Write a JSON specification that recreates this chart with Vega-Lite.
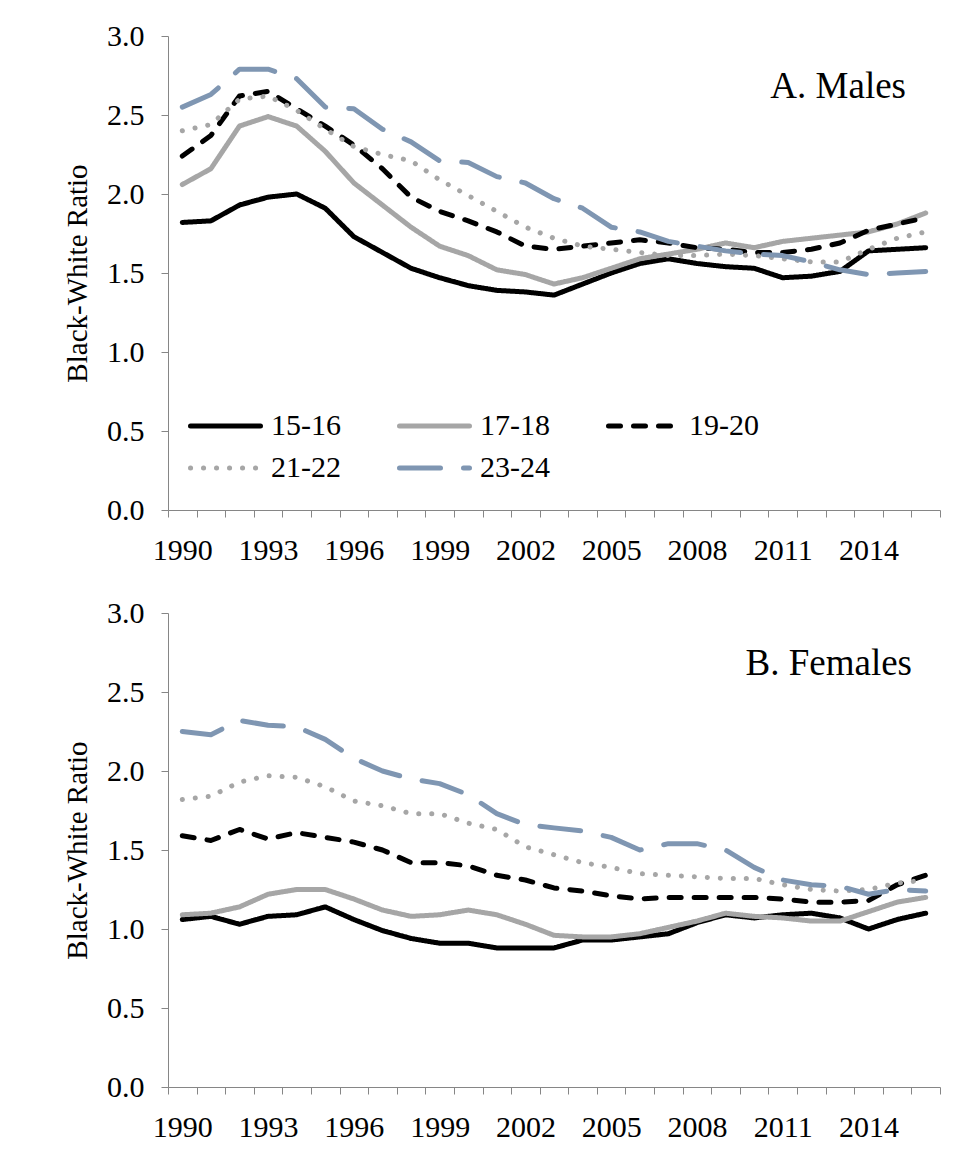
{
  "$schema": "https://vega.github.io/schema/vega-lite/v6.json",
  "padding": {"left": 63, "top": 21, "right": 20, "bottom": 10},
  "background": "white",
  "config": {
    "font": "'Liberation Serif', 'Times New Roman', serif",
    "view": {"stroke": null},
    "axis": {"labelFont": "'Liberation Serif', 'Times New Roman', serif", "titleFont": "'Liberation Serif', 'Times New Roman', serif", "labelColor": "black", "titleColor": "black", "domainColor": "#868686", "tickColor": "#868686", "grid": false, "labelFontSize": 30, "titleFontSize": 29, "titleFontWeight": "normal", "tickSize": 7},
    "concat": {"spacing": 33}
  },
  "datasets": {
    "males": [
      {"age":"15-16","year":1990,"ratio":1.82},{"age":"15-16","year":1991,"ratio":1.83},{"age":"15-16","year":1992,"ratio":1.93},{"age":"15-16","year":1993,"ratio":1.98},{"age":"15-16","year":1994,"ratio":2.00},{"age":"15-16","year":1995,"ratio":1.91},{"age":"15-16","year":1996,"ratio":1.73},{"age":"15-16","year":1997,"ratio":1.63},{"age":"15-16","year":1998,"ratio":1.53},{"age":"15-16","year":1999,"ratio":1.47},{"age":"15-16","year":2000,"ratio":1.42},{"age":"15-16","year":2001,"ratio":1.39},{"age":"15-16","year":2002,"ratio":1.38},{"age":"15-16","year":2003,"ratio":1.36},{"age":"15-16","year":2004,"ratio":1.43},{"age":"15-16","year":2005,"ratio":1.50},{"age":"15-16","year":2006,"ratio":1.56},{"age":"15-16","year":2007,"ratio":1.59},{"age":"15-16","year":2008,"ratio":1.56},{"age":"15-16","year":2009,"ratio":1.54},{"age":"15-16","year":2010,"ratio":1.53},{"age":"15-16","year":2011,"ratio":1.47},{"age":"15-16","year":2012,"ratio":1.48},{"age":"15-16","year":2013,"ratio":1.51},{"age":"15-16","year":2014,"ratio":1.64},{"age":"15-16","year":2015,"ratio":1.65},{"age":"15-16","year":2016,"ratio":1.66},
      {"age":"17-18","year":1990,"ratio":2.06},{"age":"17-18","year":1991,"ratio":2.16},{"age":"17-18","year":1992,"ratio":2.43},{"age":"17-18","year":1993,"ratio":2.49},{"age":"17-18","year":1994,"ratio":2.43},{"age":"17-18","year":1995,"ratio":2.27},{"age":"17-18","year":1996,"ratio":2.07},{"age":"17-18","year":1997,"ratio":1.93},{"age":"17-18","year":1998,"ratio":1.79},{"age":"17-18","year":1999,"ratio":1.67},{"age":"17-18","year":2000,"ratio":1.61},{"age":"17-18","year":2001,"ratio":1.52},{"age":"17-18","year":2002,"ratio":1.49},{"age":"17-18","year":2003,"ratio":1.43},{"age":"17-18","year":2004,"ratio":1.47},{"age":"17-18","year":2005,"ratio":1.53},{"age":"17-18","year":2006,"ratio":1.59},{"age":"17-18","year":2007,"ratio":1.62},{"age":"17-18","year":2008,"ratio":1.65},{"age":"17-18","year":2009,"ratio":1.69},{"age":"17-18","year":2010,"ratio":1.66},{"age":"17-18","year":2011,"ratio":1.70},{"age":"17-18","year":2012,"ratio":1.72},{"age":"17-18","year":2013,"ratio":1.74},{"age":"17-18","year":2014,"ratio":1.76},{"age":"17-18","year":2015,"ratio":1.81},{"age":"17-18","year":2016,"ratio":1.88},
      {"age":"19-20","year":1990,"ratio":2.24},{"age":"19-20","year":1991,"ratio":2.37},{"age":"19-20","year":1992,"ratio":2.62},{"age":"19-20","year":1993,"ratio":2.65},{"age":"19-20","year":1994,"ratio":2.54},{"age":"19-20","year":1995,"ratio":2.43},{"age":"19-20","year":1996,"ratio":2.31},{"age":"19-20","year":1997,"ratio":2.16},{"age":"19-20","year":1998,"ratio":1.98},{"age":"19-20","year":1999,"ratio":1.89},{"age":"19-20","year":2000,"ratio":1.83},{"age":"19-20","year":2001,"ratio":1.76},{"age":"19-20","year":2002,"ratio":1.67},{"age":"19-20","year":2003,"ratio":1.65},{"age":"19-20","year":2004,"ratio":1.67},{"age":"19-20","year":2005,"ratio":1.69},{"age":"19-20","year":2006,"ratio":1.71},{"age":"19-20","year":2007,"ratio":1.69},{"age":"19-20","year":2008,"ratio":1.66},{"age":"19-20","year":2009,"ratio":1.65},{"age":"19-20","year":2010,"ratio":1.63},{"age":"19-20","year":2011,"ratio":1.63},{"age":"19-20","year":2012,"ratio":1.65},{"age":"19-20","year":2013,"ratio":1.69},{"age":"19-20","year":2014,"ratio":1.77},{"age":"19-20","year":2015,"ratio":1.81},{"age":"19-20","year":2016,"ratio":1.85},
      {"age":"21-22","year":1990,"ratio":2.40},{"age":"21-22","year":1991,"ratio":2.44},{"age":"21-22","year":1992,"ratio":2.60},{"age":"21-22","year":1993,"ratio":2.62},{"age":"21-22","year":1994,"ratio":2.53},{"age":"21-22","year":1995,"ratio":2.41},{"age":"21-22","year":1996,"ratio":2.30},{"age":"21-22","year":1997,"ratio":2.25},{"age":"21-22","year":1998,"ratio":2.21},{"age":"21-22","year":1999,"ratio":2.09},{"age":"21-22","year":2000,"ratio":1.99},{"age":"21-22","year":2001,"ratio":1.89},{"age":"21-22","year":2002,"ratio":1.79},{"age":"21-22","year":2003,"ratio":1.72},{"age":"21-22","year":2004,"ratio":1.67},{"age":"21-22","year":2005,"ratio":1.65},{"age":"21-22","year":2006,"ratio":1.63},{"age":"21-22","year":2007,"ratio":1.61},{"age":"21-22","year":2008,"ratio":1.61},{"age":"21-22","year":2009,"ratio":1.62},{"age":"21-22","year":2010,"ratio":1.61},{"age":"21-22","year":2011,"ratio":1.59},{"age":"21-22","year":2012,"ratio":1.57},{"age":"21-22","year":2013,"ratio":1.57},{"age":"21-22","year":2014,"ratio":1.65},{"age":"21-22","year":2015,"ratio":1.72},{"age":"21-22","year":2016,"ratio":1.76},
      {"age":"23-24","year":1990,"ratio":2.55},{"age":"23-24","year":1991,"ratio":2.63},{"age":"23-24","year":1992,"ratio":2.79},{"age":"23-24","year":1993,"ratio":2.79},{"age":"23-24","year":1994,"ratio":2.73},{"age":"23-24","year":1995,"ratio":2.55},{"age":"23-24","year":1996,"ratio":2.54},{"age":"23-24","year":1997,"ratio":2.41},{"age":"23-24","year":1998,"ratio":2.33},{"age":"23-24","year":1999,"ratio":2.21},{"age":"23-24","year":2000,"ratio":2.20},{"age":"23-24","year":2001,"ratio":2.11},{"age":"23-24","year":2002,"ratio":2.07},{"age":"23-24","year":2003,"ratio":1.97},{"age":"23-24","year":2004,"ratio":1.91},{"age":"23-24","year":2005,"ratio":1.79},{"age":"23-24","year":2006,"ratio":1.76},{"age":"23-24","year":2007,"ratio":1.70},{"age":"23-24","year":2008,"ratio":1.67},{"age":"23-24","year":2009,"ratio":1.64},{"age":"23-24","year":2010,"ratio":1.62},{"age":"23-24","year":2011,"ratio":1.61},{"age":"23-24","year":2012,"ratio":1.57},{"age":"23-24","year":2013,"ratio":1.52},{"age":"23-24","year":2014,"ratio":1.49},{"age":"23-24","year":2015,"ratio":1.50},{"age":"23-24","year":2016,"ratio":1.51}
    ],
    "females": [
      {"age":"15-16","year":1990,"ratio":1.06},{"age":"15-16","year":1991,"ratio":1.08},{"age":"15-16","year":1992,"ratio":1.03},{"age":"15-16","year":1993,"ratio":1.08},{"age":"15-16","year":1994,"ratio":1.09},{"age":"15-16","year":1995,"ratio":1.14},{"age":"15-16","year":1996,"ratio":1.06},{"age":"15-16","year":1997,"ratio":0.99},{"age":"15-16","year":1998,"ratio":0.94},{"age":"15-16","year":1999,"ratio":0.91},{"age":"15-16","year":2000,"ratio":0.91},{"age":"15-16","year":2001,"ratio":0.88},{"age":"15-16","year":2002,"ratio":0.88},{"age":"15-16","year":2003,"ratio":0.88},{"age":"15-16","year":2004,"ratio":0.93},{"age":"15-16","year":2005,"ratio":0.93},{"age":"15-16","year":2006,"ratio":0.95},{"age":"15-16","year":2007,"ratio":0.97},{"age":"15-16","year":2008,"ratio":1.04},{"age":"15-16","year":2009,"ratio":1.09},{"age":"15-16","year":2010,"ratio":1.07},{"age":"15-16","year":2011,"ratio":1.09},{"age":"15-16","year":2012,"ratio":1.10},{"age":"15-16","year":2013,"ratio":1.07},{"age":"15-16","year":2014,"ratio":1.00},{"age":"15-16","year":2015,"ratio":1.06},{"age":"15-16","year":2016,"ratio":1.10},
      {"age":"17-18","year":1990,"ratio":1.09},{"age":"17-18","year":1991,"ratio":1.10},{"age":"17-18","year":1992,"ratio":1.14},{"age":"17-18","year":1993,"ratio":1.22},{"age":"17-18","year":1994,"ratio":1.25},{"age":"17-18","year":1995,"ratio":1.25},{"age":"17-18","year":1996,"ratio":1.19},{"age":"17-18","year":1997,"ratio":1.12},{"age":"17-18","year":1998,"ratio":1.08},{"age":"17-18","year":1999,"ratio":1.09},{"age":"17-18","year":2000,"ratio":1.12},{"age":"17-18","year":2001,"ratio":1.09},{"age":"17-18","year":2002,"ratio":1.03},{"age":"17-18","year":2003,"ratio":0.96},{"age":"17-18","year":2004,"ratio":0.95},{"age":"17-18","year":2005,"ratio":0.95},{"age":"17-18","year":2006,"ratio":0.97},{"age":"17-18","year":2007,"ratio":1.01},{"age":"17-18","year":2008,"ratio":1.05},{"age":"17-18","year":2009,"ratio":1.10},{"age":"17-18","year":2010,"ratio":1.08},{"age":"17-18","year":2011,"ratio":1.07},{"age":"17-18","year":2012,"ratio":1.05},{"age":"17-18","year":2013,"ratio":1.05},{"age":"17-18","year":2014,"ratio":1.11},{"age":"17-18","year":2015,"ratio":1.17},{"age":"17-18","year":2016,"ratio":1.20},
      {"age":"19-20","year":1990,"ratio":1.59},{"age":"19-20","year":1991,"ratio":1.56},{"age":"19-20","year":1992,"ratio":1.63},{"age":"19-20","year":1993,"ratio":1.57},{"age":"19-20","year":1994,"ratio":1.61},{"age":"19-20","year":1995,"ratio":1.58},{"age":"19-20","year":1996,"ratio":1.55},{"age":"19-20","year":1997,"ratio":1.50},{"age":"19-20","year":1998,"ratio":1.42},{"age":"19-20","year":1999,"ratio":1.42},{"age":"19-20","year":2000,"ratio":1.40},{"age":"19-20","year":2001,"ratio":1.34},{"age":"19-20","year":2002,"ratio":1.31},{"age":"19-20","year":2003,"ratio":1.26},{"age":"19-20","year":2004,"ratio":1.24},{"age":"19-20","year":2005,"ratio":1.21},{"age":"19-20","year":2006,"ratio":1.19},{"age":"19-20","year":2007,"ratio":1.20},{"age":"19-20","year":2008,"ratio":1.20},{"age":"19-20","year":2009,"ratio":1.20},{"age":"19-20","year":2010,"ratio":1.20},{"age":"19-20","year":2011,"ratio":1.19},{"age":"19-20","year":2012,"ratio":1.17},{"age":"19-20","year":2013,"ratio":1.17},{"age":"19-20","year":2014,"ratio":1.18},{"age":"19-20","year":2015,"ratio":1.28},{"age":"19-20","year":2016,"ratio":1.34},
      {"age":"21-22","year":1990,"ratio":1.82},{"age":"21-22","year":1991,"ratio":1.84},{"age":"21-22","year":1992,"ratio":1.93},{"age":"21-22","year":1993,"ratio":1.97},{"age":"21-22","year":1994,"ratio":1.96},{"age":"21-22","year":1995,"ratio":1.90},{"age":"21-22","year":1996,"ratio":1.81},{"age":"21-22","year":1997,"ratio":1.78},{"age":"21-22","year":1998,"ratio":1.73},{"age":"21-22","year":1999,"ratio":1.73},{"age":"21-22","year":2000,"ratio":1.67},{"age":"21-22","year":2001,"ratio":1.63},{"age":"21-22","year":2002,"ratio":1.52},{"age":"21-22","year":2003,"ratio":1.47},{"age":"21-22","year":2004,"ratio":1.42},{"age":"21-22","year":2005,"ratio":1.39},{"age":"21-22","year":2006,"ratio":1.35},{"age":"21-22","year":2007,"ratio":1.34},{"age":"21-22","year":2008,"ratio":1.33},{"age":"21-22","year":2009,"ratio":1.32},{"age":"21-22","year":2010,"ratio":1.32},{"age":"21-22","year":2011,"ratio":1.28},{"age":"21-22","year":2012,"ratio":1.25},{"age":"21-22","year":2013,"ratio":1.24},{"age":"21-22","year":2014,"ratio":1.25},{"age":"21-22","year":2015,"ratio":1.29},{"age":"21-22","year":2016,"ratio":1.31},
      {"age":"23-24","year":1990,"ratio":2.25},{"age":"23-24","year":1991,"ratio":2.23},{"age":"23-24","year":1992,"ratio":2.32},{"age":"23-24","year":1993,"ratio":2.29},{"age":"23-24","year":1994,"ratio":2.28},{"age":"23-24","year":1995,"ratio":2.20},{"age":"23-24","year":1996,"ratio":2.08},{"age":"23-24","year":1997,"ratio":2.00},{"age":"23-24","year":1998,"ratio":1.95},{"age":"23-24","year":1999,"ratio":1.92},{"age":"23-24","year":2000,"ratio":1.85},{"age":"23-24","year":2001,"ratio":1.73},{"age":"23-24","year":2002,"ratio":1.66},{"age":"23-24","year":2003,"ratio":1.64},{"age":"23-24","year":2004,"ratio":1.62},{"age":"23-24","year":2005,"ratio":1.58},{"age":"23-24","year":2006,"ratio":1.50},{"age":"23-24","year":2007,"ratio":1.54},{"age":"23-24","year":2008,"ratio":1.54},{"age":"23-24","year":2009,"ratio":1.50},{"age":"23-24","year":2010,"ratio":1.39},{"age":"23-24","year":2011,"ratio":1.31},{"age":"23-24","year":2012,"ratio":1.28},{"age":"23-24","year":2013,"ratio":1.27},{"age":"23-24","year":2014,"ratio":1.22},{"age":"23-24","year":2015,"ratio":1.25},{"age":"23-24","year":2016,"ratio":1.24}
    ]
  },
  "resolve": {"scale": {"color": "independent", "strokeDash": "independent"}},
  "vconcat": [
    {
      "width": 772, "height": 474,
      "title": {"text": "A. Males", "anchor": "end", "orient": "top", "frame": "group", "fontSize": 37, "font": "'Liberation Serif', 'Times New Roman', serif", "fontWeight": "normal", "color": "black", "baseline": "alphabetic", "offset": 0, "dx": -34, "dy": 114},
      "data": {"name": "males"},
      "mark": {"type": "line", "strokeWidth": 5, "strokeCap": "round", "strokeJoin": "round"},
      "encoding": {
        "x": {"field": "year", "type": "ordinal", "scale": {"type": "band", "paddingInner": 0, "paddingOuter": 0}, "bandPosition": 0.5,
              "axis": {"title": null, "tickBand": "extent", "labelAngle": 0, "labelPadding": 18, "labelOverlap": false, "labelExpr": "(datum.value - 1990) % 3 === 0 ? datum.label : ''"}},
        "y": {"field": "ratio", "type": "quantitative", "scale": {"domain": [0, 3], "nice": false},
              "axis": {"title": "Black-White Ratio", "values": [0, 0.5, 1, 1.5, 2, 2.5, 3], "format": ".1f", "labelPadding": 17, "titlePadding": 14}},
        "color": {"field": "age", "type": "nominal",
                  "scale": {"domain": ["15-16", "17-18", "19-20", "21-22", "23-24"], "range": ["#000000", "#a6a6a6", "#000000", "#a6a6a6", "#7f96b2"]},
                  "legend": {"title": null, "orient": "none", "legendX": 20, "legendY": 375, "columns": 3, "direction": "horizontal", "symbolType": "stroke", "symbolSize": 4900, "symbolStrokeWidth": 5, "clipHeight": 30, "labelFontSize": 30, "labelFont": "'Liberation Serif', 'Times New Roman', serif", "labelColor": "black", "labelOffset": 8, "columnPadding": 56, "rowPadding": 12, "padding": 0, "labelLimit": 200, "encode": {"symbols": {"update": {"strokeCap": {"value": "round"}}}}}},
        "strokeDash": {"field": "age", "type": "nominal",
                  "scale": {"domain": ["15-16", "17-18", "19-20", "21-22", "23-24"], "range": [[1, 0], [1, 0], [12, 13], [0.1, 12.9], [41, 23]]},
                  "legend": {"title": null, "orient": "none", "legendX": 20, "legendY": 375, "columns": 3, "direction": "horizontal", "symbolType": "stroke", "symbolSize": 4900, "symbolStrokeWidth": 5, "clipHeight": 30, "labelFontSize": 30, "labelFont": "'Liberation Serif', 'Times New Roman', serif", "labelColor": "black", "labelOffset": 8, "columnPadding": 56, "rowPadding": 12, "padding": 0, "labelLimit": 200, "encode": {"symbols": {"update": {"strokeCap": {"value": "round"}}}}}}
      }
    },
    {
      "width": 772, "height": 474,
      "title": {"text": "B. Females", "anchor": "end", "orient": "top", "frame": "group", "fontSize": 37, "font": "'Liberation Serif', 'Times New Roman', serif", "fontWeight": "normal", "color": "black", "baseline": "alphabetic", "offset": 0, "dx": -28, "dy": 114},
      "data": {"name": "females"},
      "mark": {"type": "line", "strokeWidth": 5, "strokeCap": "round", "strokeJoin": "round"},
      "encoding": {
        "x": {"field": "year", "type": "ordinal", "scale": {"type": "band", "paddingInner": 0, "paddingOuter": 0}, "bandPosition": 0.5,
              "axis": {"title": null, "tickBand": "extent", "labelAngle": 0, "labelPadding": 18, "labelOverlap": false, "labelExpr": "(datum.value - 1990) % 3 === 0 ? datum.label : ''"}},
        "y": {"field": "ratio", "type": "quantitative", "scale": {"domain": [0, 3], "nice": false},
              "axis": {"title": "Black-White Ratio", "values": [0, 0.5, 1, 1.5, 2, 2.5, 3], "format": ".1f", "labelPadding": 17, "titlePadding": 14}},
        "color": {"field": "age", "type": "nominal",
                  "scale": {"domain": ["15-16", "17-18", "19-20", "21-22", "23-24"], "range": ["#000000", "#a6a6a6", "#000000", "#a6a6a6", "#7f96b2"]},
                  "legend": null},
        "strokeDash": {"field": "age", "type": "nominal",
                  "scale": {"domain": ["15-16", "17-18", "19-20", "21-22", "23-24"], "range": [[1, 0], [1, 0], [12, 13], [0.1, 12.9], [41, 23]]},
                  "legend": null}
      }
    }
  ]
}
